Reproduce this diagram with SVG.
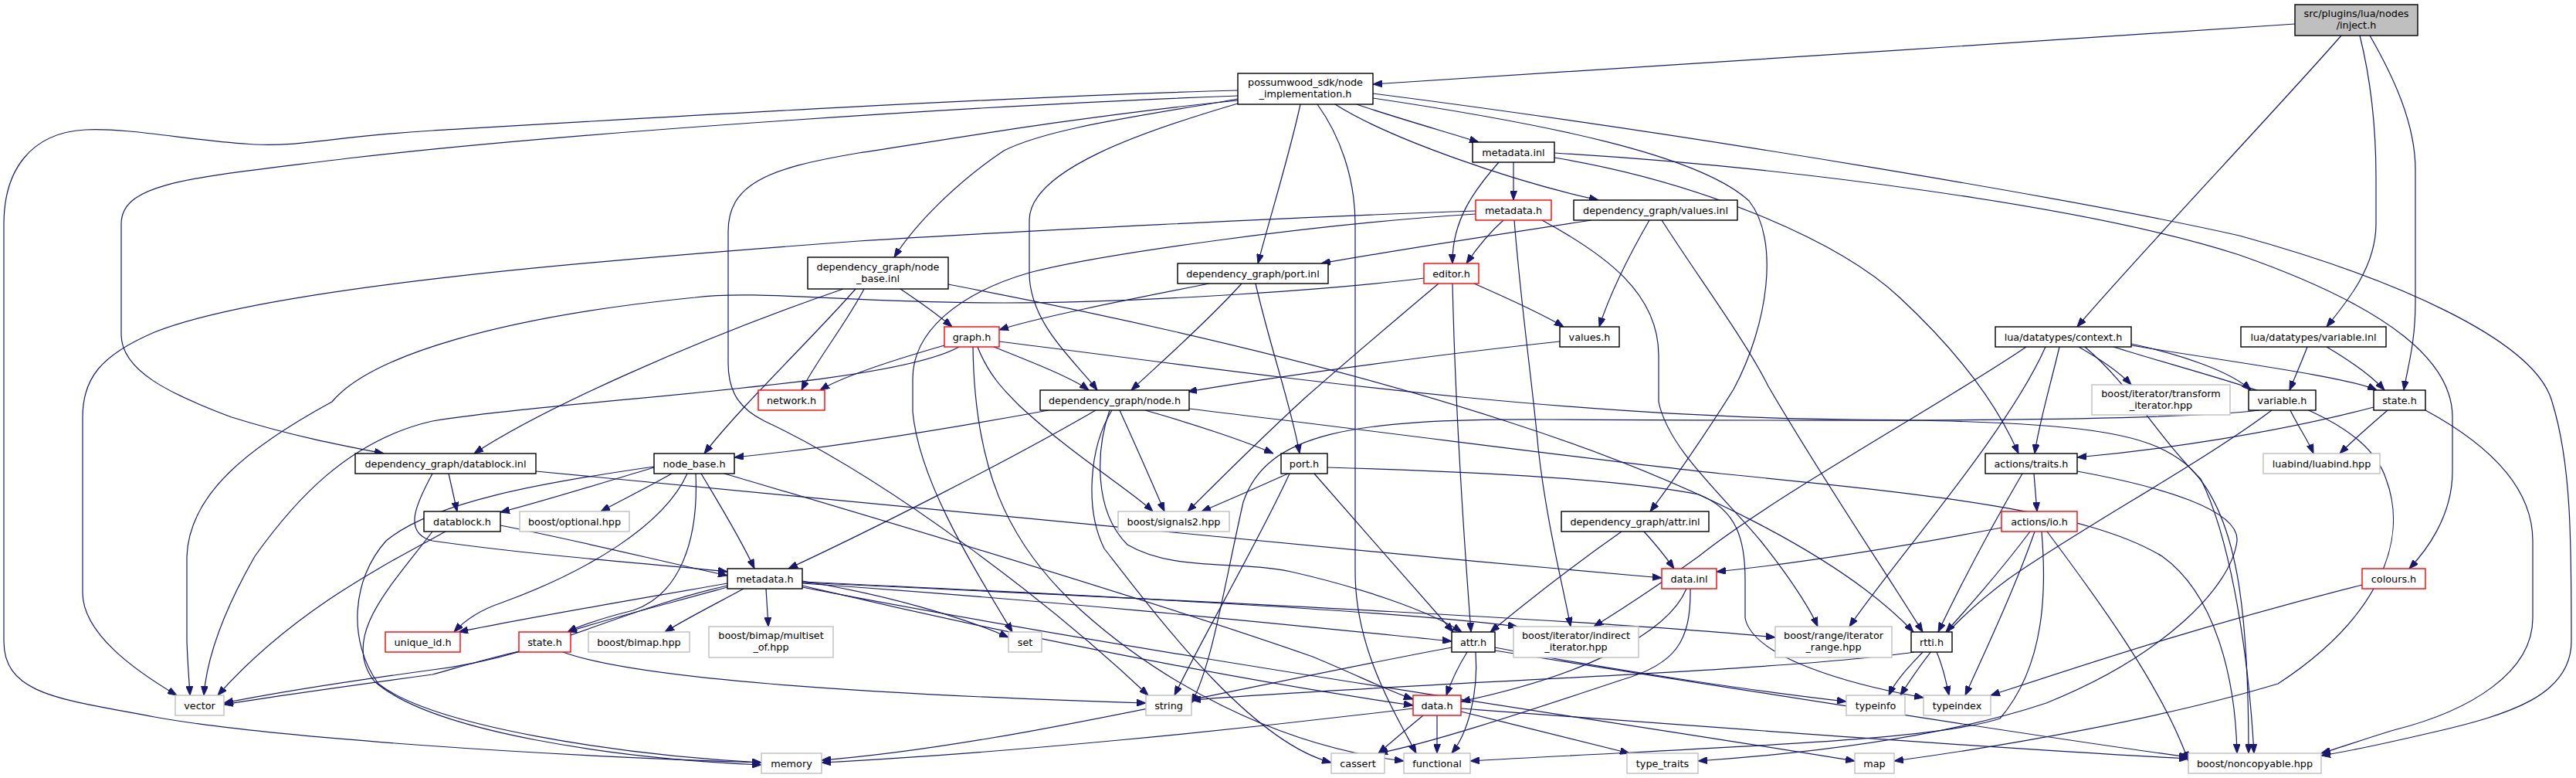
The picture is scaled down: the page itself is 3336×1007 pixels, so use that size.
<svg xmlns="http://www.w3.org/2000/svg" width="3336" height="1007" viewBox="0 0 3336 1007">
<defs>
<marker id="arr" viewBox="0 0 12 9" refX="12" refY="4.5" markerWidth="12" markerHeight="9" markerUnits="userSpaceOnUse" orient="auto">
<path d="M0,0 L12,4.5 L0,9 z" fill="#191970" stroke="#191970" stroke-width="1"/>
</marker>
<style>
.nb{fill:#fff;stroke:#000;stroke-width:1.4}
.nr{fill:#fff;stroke:#f00;stroke-width:1.4}
.ng{fill:#fff;stroke:#bfbfbf;stroke-width:1.4}
.root{fill:#bfbfbf;stroke:#000;stroke-width:1.4}
text{font-family:"DejaVu Sans","Liberation Sans",sans-serif;font-size:12.8px;text-anchor:middle;fill:#000}
#edges path{fill:none;stroke:#191970;stroke-width:1.2;marker-end:url(#arr)}
</style>
</defs>
<rect x="0" y="0" width="3336" height="1007" fill="#fff"/>
<g id="edges">
<path d="M2972,31 C2600,55 2100,90 1778,109"/>
<path d="M3032,46 C2950,140 2760,340 2690,423"/>
<path d="M3056,46 C3072,110 3077,170 3077,230 L3077,290 C3077,345 3040,390 3013,423"/>
<path d="M3069,46 C3100,100 3128,160 3128,220 L3128,390 C3128,445 3118,475 3113,505"/>
<path d="M1603,117 C1300,125 800,155 560,169 C430,177 390,190 330,187 C250,183 170,165 110,168 C40,172 5,220 5,290 L5,830 C5,900 80,905 200,928 C350,955 700,978 986,987"/>
<path d="M1603,124 C1300,135 750,170 450,205 C250,230 157,235 157,290 L157,433 C157,480 220,510 300,540 C380,565 450,578 497,587"/>
<path d="M1603,130 C1400,150 1200,185 1112,198 C990,218 943,240 943,300 L943,470 C943,510 960,530 990,545 C1150,620 1360,780 1487,900"/>
<path d="M1603,128 C1480,150 1360,165 1300,195 C1240,235 1185,290 1158,333"/>
<path d="M1603,134 C1480,170 1333,220 1333,285 L1333,353 C1333,420 1395,470 1421,505"/>
<path d="M1684,135 C1670,200 1645,280 1629,341"/>
<path d="M1706,135 C1735,175 1755,230 1755,290 L1755,740 C1755,840 1805,920 1834,975"/>
<path d="M1729,135 C1800,180 1960,235 2070,259"/>
<path d="M1757,135 C1800,150 1870,170 1915,184"/>
<path d="M1778,121 C2200,175 2700,260 2900,305 C3100,360 3283,440 3305,520 C3330,600 3330,700 3330,830 C3330,900 3250,925 3150,948 C3090,962 3045,972 3006,978"/>
<path d="M1778,127 C2000,160 2200,200 2265,260 C2305,310 2290,420 2245,504 C2210,560 2165,625 2137,662"/>
<path d="M2013,198 C2300,215 2700,265 2900,330 C3100,400 3176,470 3176,540 L3176,610 C3176,670 3140,715 3120,736"/>
<path d="M2013,204 C2200,235 2380,310 2460,385 C2530,450 2585,520 2614,587"/>
<path d="M1960,210 L1960,259"/>
<path d="M1941,210 C1910,245 1880,285 1881,341"/>
<path d="M1911,273 C1700,280 1300,300 1112,312 C800,335 350,370 200,430 C130,460 107,490 107,540 L107,767 C107,820 175,868 229,900"/>
<path d="M1911,277 C1700,290 1420,330 1333,353 C1240,380 1182,430 1182,490 L1182,533 C1190,620 1255,725 1311,818"/>
<path d="M1947,285 C1930,300 1912,322 1899,341"/>
<path d="M1961,285 C1970,400 1985,500 1992,580 C2002,670 2022,750 2034,811"/>
<path d="M1997,285 C2080,330 2148,380 2148,460 L2148,520 C2160,580 2230,640 2280,700 C2320,750 2345,790 2354,811"/>
<path d="M2061,285 C1930,305 1800,325 1711,341"/>
<path d="M2136,285 C2110,330 2085,380 2071,423"/>
<path d="M2152,285 C2200,360 2260,440 2290,500 C2360,620 2445,745 2490,818"/>
<path d="M1909,367 C1950,385 1995,405 2025,423"/>
<path d="M1881,367 C1884,500 1893,660 1905,818"/>
<path d="M1863,367 C1800,420 1730,480 1690,515 C1630,570 1570,630 1538,662"/>
<path d="M1844,360 C1700,378 1450,392 1300,392 C1100,392 980,375 900,385 C650,410 480,460 430,520 C320,580 245,640 242,720 L242,830 C243,860 245,880 246,900"/>
<path d="M1566,367 C1450,390 1340,412 1294,427"/>
<path d="M1608,367 C1560,420 1500,472 1465,505"/>
<path d="M1626,367 C1645,450 1672,525 1683,587"/>
<path d="M1166,374 C1190,390 1215,408 1233,423"/>
<path d="M1119,374 C1095,420 1055,470 1038,505"/>
<path d="M1092,374 C900,440 700,530 614,587"/>
<path d="M1108,374 C1050,440 960,525 912,587"/>
<path d="M1228,368 C1500,420 1750,480 1950,545 C2200,625 2390,725 2478,818"/>
<path d="M1223,447 C1150,468 1090,488 1062,505"/>
<path d="M1242,449 C1150,500 750,515 560,545 C450,570 380,650 330,720 C290,790 268,850 264,900"/>
<path d="M1287,449 C1340,470 1390,490 1410,505"/>
<path d="M1266,449 C1280,485 1300,505 1320,525 C1390,590 1465,635 1493,662"/>
<path d="M1260,449 C1262,600 1300,700 1400,790 C1500,880 1650,965 1818,985"/>
<path d="M1294,442 C1600,480 2000,540 2400,543 C2700,545 2780,560 2830,600 C2900,660 2912,800 2912,975"/>
<path d="M1358,531 C1200,560 1050,582 951,592"/>
<path d="M1419,531 C1300,600 1120,690 1021,736"/>
<path d="M1450,531 C1470,575 1492,625 1508,662"/>
<path d="M1483,531 C1550,550 1615,572 1649,587"/>
<path d="M1437,531 C1420,580 1415,660 1460,705 C1520,740 1600,725 1672,740 C1760,760 1850,790 1893,818"/>
<path d="M1440,531 C1410,580 1405,660 1430,710 C1500,800 1620,960 1724,987"/>
<path d="M1540,529 C1800,560 2100,600 2228,613 C2500,640 2700,660 2800,720 C2870,770 2895,880 2897,975"/>
<path d="M2020,442 C1850,460 1650,488 1538,507"/>
<path d="M1670,613 C1630,700 1560,820 1521,900"/>
<path d="M1668,613 C1630,630 1590,648 1556,662"/>
<path d="M1702,613 C1760,680 1840,770 1882,818"/>
<path d="M1719,605 C1900,610 2100,620 2200,640 C2250,660 2260,700 2260,750 L2260,800 C2270,850 2390,885 2491,903"/>
<path d="M847,605 C780,625 700,650 648,663"/>
<path d="M870,613 C840,630 800,650 778,662"/>
<path d="M890,613 C860,680 760,740 650,780 C620,790 600,805 588,818"/>
<path d="M901,613 C905,700 880,770 820,790 C780,800 755,808 735,818"/>
<path d="M908,613 C930,650 958,695 977,736"/>
<path d="M938,613 C1200,690 1500,780 1700,850 C1760,875 1800,895 1830,905"/>
<path d="M847,604 C700,625 560,650 500,700 C455,750 450,830 490,885 C560,940 800,977 986,987"/>
<path d="M581,613 L592,662"/>
<path d="M694,610 C1000,640 1600,700 2152,748"/>
<path d="M560,613 C540,650 520,690 560,700 C700,720 850,730 942,740"/>
<path d="M648,680 C750,700 850,725 942,745"/>
<path d="M577,688 C500,730 380,790 282,900"/>
<path d="M560,688 C505,760 440,825 485,882 C560,948 800,982 986,990"/>
<path d="M942,755 C800,780 680,800 594,818"/>
<path d="M942,760 C870,780 790,800 735,818"/>
<path d="M963,762 C930,780 890,800 861,818"/>
<path d="M992,762 L995,811"/>
<path d="M942,758 C800,790 700,850 560,867 C450,882 350,898 290,910"/>
<path d="M672,843 C620,855 580,868 560,873 C450,888 350,902 290,912"/>
<path d="M1039,752 C1150,770 1250,800 1306,825"/>
<path d="M1039,755 C1400,780 1700,812 1880,830"/>
<path d="M1039,753 C1400,770 1800,790 1965,811"/>
<path d="M1039,754 C1600,780 2100,805 2299,825"/>
<path d="M1039,758 C1300,820 1600,880 1830,913"/>
<path d="M1039,760 C1500,850 2100,935 2402,985"/>
<path d="M729,844 C800,870 1000,895 1484,910"/>
<path d="M2129,688 C2140,700 2155,718 2168,736"/>
<path d="M2100,688 C2040,730 1970,785 1930,818"/>
<path d="M2592,683 C2450,710 2320,730 2223,740"/>
<path d="M2629,688 C2590,740 2550,785 2520,818"/>
<path d="M2635,688 C2610,760 2570,845 2545,900"/>
<path d="M2644,688 C2650,760 2650,860 2590,930 C2500,960 2200,968 1904,985"/>
<path d="M2651,688 C2720,780 2800,890 2834,985"/>
<path d="M2619,613 C2580,680 2540,755 2510,818"/>
<path d="M2634,613 L2638,662"/>
<path d="M2690,610 C2800,630 2900,660 2897,700 C2890,760 2800,850 2650,910 C2500,960 2300,978 2199,985"/>
<path d="M2966,531 C2975,550 2990,572 2996,587"/>
<path d="M3092,531 C3070,550 3045,572 3030,587"/>
<path d="M2942,531 C2850,600 2700,680 2600,750 C2520,810 2490,855 2461,900"/>
<path d="M3074,527 C2950,560 2800,582 2690,592"/>
<path d="M2926,531 C2800,546 2400,545 2000,543 C1750,542 1640,560 1610,650 C1585,760 1570,860 1543,910"/>
<path d="M2760,445 C2830,460 2890,482 2915,505"/>
<path d="M2760,447 C2900,470 3040,488 3078,505"/>
<path d="M2692,449 C2720,465 2745,482 2760,498"/>
<path d="M2667,449 C2655,500 2640,550 2635,587"/>
<path d="M2649,449 C2600,560 2450,730 2395,811"/>
<path d="M2624,449 C2520,520 2300,640 2200,720 C2130,770 2090,795 2064,811"/>
<path d="M2737,449 C2900,500 3060,530 3090,620 C3120,700 3080,800 2950,885 C2800,930 2600,965 2453,985"/>
<path d="M2700,449 C2760,500 2790,560 2850,620 C2890,700 2912,850 2919,975"/>
<path d="M2988,449 C2980,470 2972,488 2965,505"/>
<path d="M3013,449 C3040,465 3070,485 3088,505"/>
<path d="M2490,844 C2475,860 2455,880 2446,900"/>
<path d="M2508,844 C2515,860 2520,880 2524,900"/>
<path d="M2479,844 C2300,870 1800,885 1543,906"/>
<path d="M1843,926 C1820,945 1800,962 1785,975"/>
<path d="M1861,926 L1861,975"/>
<path d="M1830,917 C1600,945 1300,975 1064,987"/>
<path d="M1892,921 C1970,940 2060,962 2110,975"/>
<path d="M1892,917 C2200,940 2600,970 2834,982"/>
<path d="M1900,844 C1890,860 1880,880 1873,900"/>
<path d="M1911,844 C1915,900 1900,950 1880,975"/>
<path d="M1880,838 C1600,890 1300,965 1064,984"/>
<path d="M1936,838 C2100,870 2300,898 2391,908"/>
<path d="M1936,842 C2300,900 2650,955 2834,980"/>
<path d="M2184,762 C2160,820 2050,875 1892,908"/>
<path d="M2189,762 C2190,830 2170,860 2100,880 C1950,930 1850,962 1785,975"/>
<path d="M3059,757 C2850,810 2700,860 2578,900"/>
<path d="M3141,531 C3250,590 3280,650 3280,700 L3280,800 C3280,870 3200,920 3100,945 C3060,957 3030,968 3006,975"/>
</g>
<g id="n_inject"><rect class="root" x="2972" y="6" width="159" height="40"/><text x="3051.5" y="22">src/plugins/lua/nodes</text><text x="3051.5" y="37">/inject.h</text></g>
<g id="n_impl"><rect class="nb" x="1603" y="95" width="175" height="40"/><text x="1690.5" y="111">possumwood_sdk/node</text><text x="1690.5" y="126">_implementation.h</text></g>
<g id="n_metainl"><rect class="nb" x="1907" y="184" width="106" height="26"/><text x="1960" y="201.5">metadata.inl</text></g>
<g id="n_metaR"><rect class="nr" x="1911" y="259" width="98" height="26"/><text x="1960" y="276.5">metadata.h</text></g>
<g id="n_valinl"><rect class="nb" x="2038" y="259" width="212" height="26"/><text x="2144" y="276.5">dependency_graph/values.inl</text></g>
<g id="n_editor"><rect class="nr" x="1844" y="341" width="71" height="26"/><text x="1879.5" y="358.5">editor.h</text></g>
<g id="n_portinl"><rect class="nb" x="1525" y="341" width="195" height="26"/><text x="1622.5" y="358.5">dependency_graph/port.inl</text></g>
<g id="n_nbinl"><rect class="nb" x="1046" y="333" width="182" height="41"/><text x="1137" y="349.5">dependency_graph/node</text><text x="1137" y="364.5">_base.inl</text></g>
<g id="n_graph"><rect class="nr" x="1223" y="423" width="71" height="26"/><text x="1258.5" y="440.5">graph.h</text></g>
<g id="n_values"><rect class="nb" x="2020" y="423" width="77" height="26"/><text x="2058.5" y="440.5">values.h</text></g>
<g id="n_context"><rect class="nb" x="2584" y="423" width="176" height="26"/><text x="2672" y="440.5">lua/datatypes/context.h</text></g>
<g id="n_varinl"><rect class="nb" x="2902" y="423" width="188" height="26"/><text x="2996" y="440.5">lua/datatypes/variable.inl</text></g>
<g id="n_network"><rect class="nr" x="982" y="505" width="86" height="26"/><text x="1025" y="522.5">network.h</text></g>
<g id="n_node"><rect class="nb" x="1347" y="505" width="193" height="26"/><text x="1443.5" y="522.5">dependency_graph/node.h</text></g>
<g id="n_transform"><rect class="ng" x="2709" y="498" width="179" height="39"/><text x="2798.5" y="514">boost/iterator/transform</text><text x="2798.5" y="529">_iterator.hpp</text></g>
<g id="n_variable"><rect class="nb" x="2912" y="505" width="87" height="26"/><text x="2955.5" y="522.5">variable.h</text></g>
<g id="n_lstate"><rect class="nb" x="3074" y="505" width="67" height="26"/><text x="3107.5" y="522.5">state.h</text></g>
<g id="n_dbinl"><rect class="nb" x="460" y="587" width="234" height="26"/><text x="577" y="604.5">dependency_graph/datablock.inl</text></g>
<g id="n_nodebase"><rect class="nb" x="847" y="587" width="104" height="26"/><text x="899" y="604.5">node_base.h</text></g>
<g id="n_port"><rect class="nb" x="1659" y="587" width="60" height="26"/><text x="1689" y="604.5">port.h</text></g>
<g id="n_luabind"><rect class="ng" x="2931" y="587" width="151" height="26"/><text x="3006.5" y="604.5">luabind/luabind.hpp</text></g>
<g id="n_traits"><rect class="nb" x="2571" y="587" width="119" height="26"/><text x="2630.5" y="604.5">actions/traits.h</text></g>
<g id="n_datablock"><rect class="nb" x="549" y="662" width="99" height="26"/><text x="598.5" y="679.5">datablock.h</text></g>
<g id="n_optional"><rect class="ng" x="673" y="662" width="142" height="26"/><text x="744" y="679.5">boost/optional.hpp</text></g>
<g id="n_signals"><rect class="ng" x="1448" y="662" width="144" height="26"/><text x="1520" y="679.5">boost/signals2.hpp</text></g>
<g id="n_attrinl"><rect class="nb" x="2022" y="662" width="191" height="26"/><text x="2117.5" y="679.5">dependency_graph/attr.inl</text></g>
<g id="n_io"><rect class="nr" x="2592" y="662" width="98" height="26"/><text x="2641" y="679.5">actions/io.h</text></g>
<g id="n_meta"><rect class="nb" x="942" y="736" width="97" height="26"/><text x="990.5" y="753.5">metadata.h</text></g>
<g id="n_datainl"><rect class="nr" x="2152" y="736" width="71" height="26"/><text x="2187.5" y="753.5">data.inl</text></g>
<g id="n_colours"><rect class="nr" x="3059" y="736" width="82" height="26"/><text x="3100" y="753.5">colours.h</text></g>
<g id="n_uid"><rect class="nr" x="499" y="818" width="97" height="26"/><text x="547.5" y="835.5">unique_id.h</text></g>
<g id="n_rstate"><rect class="nr" x="672" y="818" width="67" height="26"/><text x="705.5" y="835.5">state.h</text></g>
<g id="n_bimap"><rect class="ng" x="762" y="818" width="131" height="26"/><text x="827.5" y="835.5">boost/bimap.hpp</text></g>
<g id="n_multiset"><rect class="ng" x="918" y="811" width="161" height="40"/><text x="998.5" y="827">boost/bimap/multiset</text><text x="998.5" y="842">_of.hpp</text></g>
<g id="n_set"><rect class="ng" x="1306" y="818" width="43" height="26"/><text x="1327.5" y="835.5">set</text></g>
<g id="n_attr"><rect class="nb" x="1880" y="818" width="56" height="26"/><text x="1908" y="835.5">attr.h</text></g>
<g id="n_indirect"><rect class="ng" x="1960" y="811" width="162" height="40"/><text x="2041" y="827">boost/iterator/indirect</text><text x="2041" y="842">_iterator.hpp</text></g>
<g id="n_range"><rect class="ng" x="2299" y="811" width="151" height="40"/><text x="2374.5" y="827">boost/range/iterator</text><text x="2374.5" y="842">_range.hpp</text></g>
<g id="n_rtti"><rect class="nb" x="2475" y="818" width="53" height="26"/><text x="2501.5" y="835.5">rtti.h</text></g>
<g id="n_vector"><rect class="ng" x="227" y="900" width="63" height="26"/><text x="258.5" y="917.5">vector</text></g>
<g id="n_data"><rect class="nr" x="1830" y="900" width="62" height="26"/><text x="1861" y="917.5">data.h</text></g>
<g id="n_string"><rect class="ng" x="1484" y="900" width="59" height="26"/><text x="1513.5" y="917.5">string</text></g>
<g id="n_typeinfo"><rect class="ng" x="2391" y="900" width="76" height="26"/><text x="2429" y="917.5">typeinfo</text></g>
<g id="n_typeindex"><rect class="ng" x="2491" y="900" width="87" height="26"/><text x="2534.5" y="917.5">typeindex</text></g>
<g id="n_memory"><rect class="ng" x="986" y="975" width="78" height="26"/><text x="1025" y="992.5">memory</text></g>
<g id="n_cassert"><rect class="ng" x="1724" y="975" width="69" height="26"/><text x="1758.5" y="992.5">cassert</text></g>
<g id="n_functional"><rect class="ng" x="1818" y="975" width="86" height="26"/><text x="1861" y="992.5">functional</text></g>
<g id="n_typetraits"><rect class="ng" x="2107" y="975" width="92" height="26"/><text x="2153" y="992.5">type_traits</text></g>
<g id="n_map"><rect class="ng" x="2402" y="975" width="51" height="26"/><text x="2427.5" y="992.5">map</text></g>
<g id="n_noncopyable"><rect class="ng" x="2834" y="975" width="172" height="26"/><text x="2920" y="992.5">boost/noncopyable.hpp</text></g>
</svg>
